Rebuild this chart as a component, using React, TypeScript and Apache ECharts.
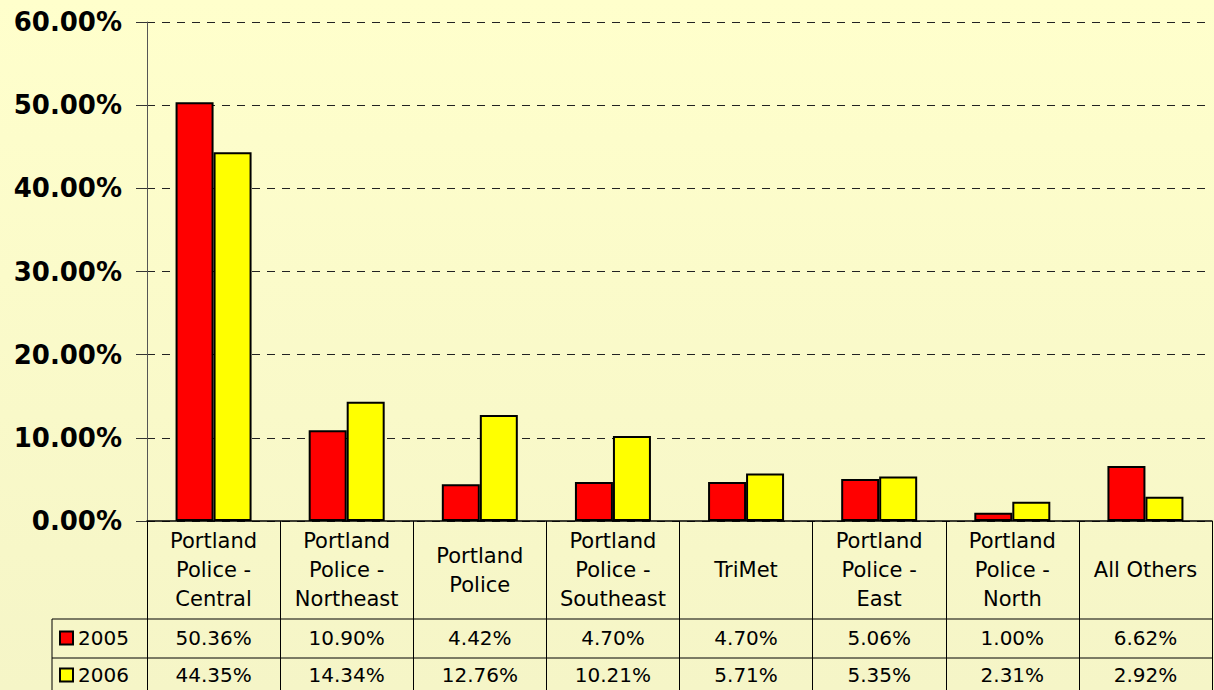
import React, { useEffect, useRef } from "react";
import * as echarts from "echarts";

const categories = [
  "Portland\nPolice -\nCentral",
  "Portland\nPolice -\nNortheast",
  "Portland\nPolice",
  "Portland\nPolice -\nSoutheast",
  "TriMet",
  "Portland\nPolice -\nEast",
  "Portland\nPolice -\nNorth",
  "All Others",
];
const seriesNames = ["2005", "2006"];
const values2005 = [50.36, 10.9, 4.42, 4.7, 4.7, 5.06, 1.0, 6.62];
const values2006 = [44.35, 14.34, 12.76, 10.21, 5.71, 5.35, 2.31, 2.92];
const yTicks = { min: 0, max: 60, interval: 10 };

const fmt = (v: number) => v.toFixed(2) + "%";

export default function App() {
  const ref = useRef<HTMLDivElement>(null);
  useEffect(() => {
    document.body.style.margin = "0";
    if (!ref.current) return;
    const chart = echarts.init(ref.current, null, { renderer: "svg" });
    const font = "DejaVu Sans";
    const valueAxis = (vals: number[], offset: number) => ({
      type: "category",
      data: categories,
      position: "bottom",
      offset,
      gridIndex: 0,
      axisLine: { show: false },
      axisTick: { show: false },
      splitLine: { show: false },
      axisLabel: {
        interval: 0,
        margin: 0,
        verticalAlign: "middle",
        fontFamily: font,
        fontSize: 20,
        color: "#000",
        formatter: (_v: string, i: number) => fmt(vals[i]),
      },
    });
    const legend = (name: string, top: number) => ({
      left: 59,
      top,
      padding: 0,
      itemWidth: 13,
      itemHeight: 13,
      icon: "rect",
      data: [name],
      textStyle: { fontFamily: font, fontSize: 20, color: "#000" },
      itemStyle: { borderColor: "#000", borderWidth: 2 },
    });
    chart.setOption({
      animation: false,
      backgroundColor: new echarts.graphic.LinearGradient(0, 0, 0, 1, [
        { offset: 0, color: "#FFFFCC" },
        { offset: 1, color: "#F5F5C7" },
      ]),
      grid: { left: 147, right: 2, top: 22, bottom: 169, containLabel: false },
      legend: [legend(seriesNames[0], 628), legend(seriesNames[1], 665)],
      xAxis: [
        {
          type: "category",
          data: categories,
          axisLine: { lineStyle: { color: "#000", width: 1.5 } },
          axisTick: {
            show: true,
            interval: 0,
            alignWithLabel: false,
            length: 170,
            lineStyle: { color: "#000", width: 1 },
          },
          axisLabel: {
            interval: 0,
            margin: 49,
            verticalAlign: "middle",
            fontFamily: font,
            fontSize: 21,
            lineHeight: 29,
            color: "#000",
          },
        },
        valueAxis(values2005, 117),
        valueAxis(values2006, 154),
      ],
      yAxis: {
        type: "value",
        min: yTicks.min,
        max: yTicks.max,
        interval: yTicks.interval,
        axisLine: { show: true, lineStyle: { color: "#555", width: 1 } },
        axisTick: { show: true, length: 11, lineStyle: { color: "#333" } },
        axisLabel: {
          margin: 25,
          fontFamily: font,
          fontWeight: "bold",
          fontSize: 26,
          color: "#000",
          formatter: (v: number) => fmt(v),
        },
        splitLine: {
          show: true,
          lineStyle: { color: "#222", type: [8, 7], width: 1 },
        },
      },
      series: [
        {
          name: seriesNames[0],
          type: "bar",
          data: values2005,
          barWidth: 38,
          barGap: "0%",
          itemStyle: { color: "#FF0000", borderColor: "#000", borderWidth: 2 },
        },
        {
          name: seriesNames[1],
          type: "bar",
          data: values2006,
          barWidth: 38,
          barGap: "0%",
          itemStyle: { color: "#FFFF00", borderColor: "#000", borderWidth: 2 },
        },
      ],
      graphic: [
        { type: "line", shape: { x1: 52, y1: 619, x2: 1212, y2: 619 }, style: { stroke: "#000", lineWidth: 1 } },
        { type: "line", shape: { x1: 52, y1: 658, x2: 1212, y2: 658 }, style: { stroke: "#000", lineWidth: 1 } },
        { type: "line", shape: { x1: 52, y1: 619, x2: 52, y2: 690 }, style: { stroke: "#000", lineWidth: 1 } },
      ],
    });
    return () => chart.dispose();
  }, []);
  return <div ref={ref} style={{ width: 1214, height: 690 }} />;
}
